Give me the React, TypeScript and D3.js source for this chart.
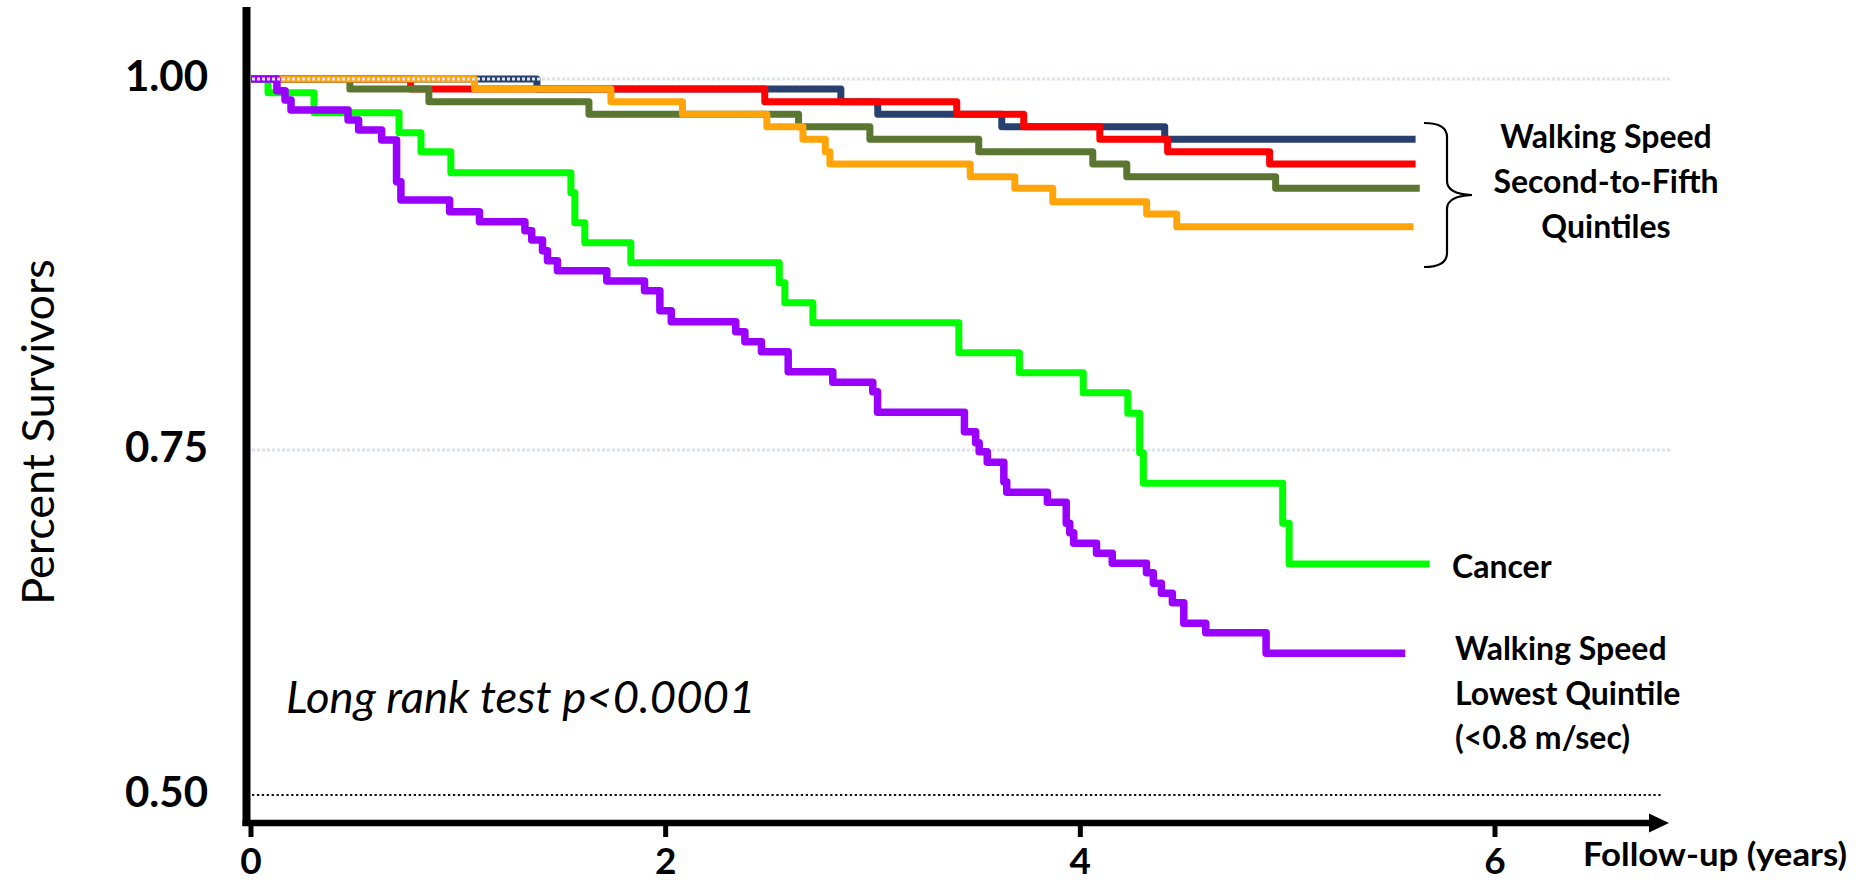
import React from 'react';
import * as d3 from 'd3';

const WIDTH = 1862;
const HEIGHT = 882;

// Kaplan–Meier survival steps. Each value holds from its time (years) until the next time.
const fifthTimes = [0, 1.379, 2.845, 3.023, 3.621, 4.407];
const fifthValues = [1.0, 0.9933, 0.9847, 0.9762, 0.9679, 0.9594];
const fifthEnd = 5.617;

const fourthTimes = [0, 0.77, 2.478, 3.404, 3.727, 4.094, 4.421, 4.913];
const fourthValues = [1.0, 0.9933, 0.9847, 0.9762, 0.9679, 0.9594, 0.951, 0.9427];
const fourthEnd = 5.617;

const thirdTimes = [0, 0.477, 0.858, 1.63, 2.641, 2.985, 3.51, 4.06, 4.224, 4.942];
const thirdValues = [1.0, 0.9933, 0.9847, 0.9762, 0.9679, 0.9594, 0.951, 0.9427, 0.9342, 0.9263];
const thirdEnd = 5.637;

const secondTimes = [0, 1.078, 1.736, 2.081, 2.488, 2.662, 2.77, 2.792, 3.469, 3.684, 3.867, 4.32, 4.465];
const secondValues = [1.0, 0.9933, 0.9847, 0.9762, 0.9679, 0.9594, 0.951, 0.9427, 0.9342, 0.9263, 0.9173, 0.909, 0.9005];
const secondEnd = 5.607;

const cancerTimes = [0, 0.082, 0.304, 0.714, 0.82, 0.964, 1.543, 1.562, 1.61, 1.832, 2.548, 2.575, 2.71, 3.414, 3.706, 4.014, 4.229, 4.286, 4.304, 4.976, 5.007];
const cancerValues = [1.0, 0.9908, 0.9773, 0.9638, 0.951, 0.9369, 0.9234, 0.9032, 0.8897, 0.8762, 0.8627, 0.8493, 0.8358, 0.8156, 0.8021, 0.7886, 0.7747, 0.748, 0.7259, 0.6969, 0.6674];
const cancerEnd = 5.685;

const lowestTimes = [0, 0.125, 0.164, 0.193, 0.468, 0.519, 0.63, 0.702, 0.723, 0.958, 1.102, 1.321, 1.354, 1.406, 1.43, 1.478, 1.716, 1.898, 1.972, 2.027, 2.338, 2.382, 2.462, 2.591, 2.806, 2.999, 3.022, 3.441, 3.495, 3.512, 3.551, 3.631, 3.645, 3.841, 3.932, 3.949, 3.968, 4.078, 4.154, 4.319, 4.352, 4.391, 4.444, 4.499, 4.605, 4.896];
const lowestValues = [1.0, 0.9921, 0.9858, 0.9791, 0.9724, 0.9656, 0.9589, 0.9308, 0.9185, 0.9106, 0.9038, 0.8978, 0.8915, 0.8843, 0.8776, 0.8708, 0.8639, 0.8573, 0.8439, 0.8365, 0.8297, 0.823, 0.8162, 0.8028, 0.7956, 0.7893, 0.7754, 0.7623, 0.7549, 0.7488, 0.7411, 0.727, 0.7193, 0.7121, 0.6969, 0.6901, 0.6824, 0.6751, 0.6679, 0.6611, 0.6534, 0.6462, 0.6393, 0.6244, 0.6176, 0.6027];
const lowestEnd = 5.567;

const xTicks = [0, 2, 4, 6];
const yTicks = [0.5, 0.75, 1.0];
const yTickLabels = ['0.50', '0.75', '1.00'];

const quintileLabel = ['Walking Speed', 'Second-to-Fifth', 'Quintiles'];
const lowestLabel = ['Walking Speed', 'Lowest Quintile', '(<0.8 m/sec)'];

const FONT = 'Lato, Carlito, "Liberation Sans", sans-serif';

const x = d3.scaleLinear().domain([0, 6]).range([251, 1495]);
// the printed axis spaces its upper and lower halves slightly differently
const y = d3.scaleLinear().domain([0.5, 0.75, 1.0]).range([795, 450, 79]);

const stepLine = d3
  .line<[number, number]>()
  .x((d) => x(d[0]))
  .y((d) => y(d[1]))
  .curve(d3.curveStepAfter);

function stepPoints(times: number[], values: number[], end: number): [number, number][] {
  const pts = times.map((t, i) => [t, values[i]] as [number, number]);
  pts.push([end, values[values.length - 1]]);
  return pts;
}

// drawn bottom to top
const series = [
  { key: 'fifth', times: fifthTimes, values: fifthValues, end: fifthEnd, color: '#27406f', width: 7 },
  { key: 'fourth', times: fourthTimes, values: fourthValues, end: fourthEnd, color: '#ff0000', width: 7 },
  { key: 'third', times: thirdTimes, values: thirdValues, end: thirdEnd, color: '#5a7631', width: 7 },
  { key: 'second', times: secondTimes, values: secondValues, end: secondEnd, color: '#ffa50a', width: 7 },
  { key: 'cancer', times: cancerTimes, values: cancerValues, end: cancerEnd, color: '#00ff00', width: 7 },
  { key: 'lowest', times: lowestTimes, values: lowestValues, end: lowestEnd, color: '#9900ff', width: 7.5 },
];

export default function App() {
  const axisX = 246.5;
  const axisY = 823;
  const gridEnd = 1672;
  return (
    <svg
      width={WIDTH}
      height={HEIGHT}
      viewBox={`0 0 ${WIDTH} ${HEIGHT}`}
      style={{ position: 'absolute', left: 0, top: 0, background: '#fff' }}
      fontFamily={FONT}
    >
      <defs>
        <filter id="tickShadow" x="-50%" y="-100%" width="200%" height="300%">
          <feDropShadow dx="-2" dy="3" stdDeviation="2" floodColor="#000" floodOpacity="0.35" />
        </filter>
      </defs>
      <rect width={WIDTH} height={HEIGHT} fill="#fff" />

      {/* middle reference line sits under the curves */}
      <line x1={x(0) + 1} x2={gridEnd} y1={y(0.75)} y2={y(0.75)} stroke="#dde2ee" strokeWidth={3} strokeDasharray="3 2" />

      {/* survival curves */}
      {series.map((s) => (
        <path
          key={s.key}
          d={stepLine(stepPoints(s.times, s.values, s.end)) || ''}
          fill="none"
          stroke={s.color}
          strokeWidth={s.width}
          strokeLinejoin="round"
          strokeLinecap="butt"
        />
      ))}

      {/* top reference line is drawn over the curves; dotted baseline at 0.50 */}
      <line x1={x(0) + 1} x2={gridEnd} y1={y(1)} y2={y(1)} stroke="#dde2ee" strokeWidth={3} strokeDasharray="3 2" />
      <line x1={x(0) + 1} x2={1661} y1={y(0.5)} y2={y(0.5)} stroke="#111" strokeWidth={2} strokeDasharray="2.3 2.6" />

      {/* y axis */}
      <line x1={axisX} x2={axisX} y1={7} y2={axisY + 3} stroke="#000" strokeWidth={8} />
      {yTicks.map((v, i) => (
        <g key={v}>
          <line x1={232} x2={axisX} y1={y(v)} y2={y(v)} stroke="#000" strokeWidth={6} filter="url(#tickShadow)" />
          <text x={208} y={y(v) + 12} textAnchor="end" fontSize={42} fontWeight={700} fill="#000">
            {yTickLabels[i]}
          </text>
        </g>
      ))}
      <text transform={`translate(54, 432) rotate(-90)`} textAnchor="middle" fontSize={45} fill="#000">
        Percent Survivors
      </text>

      {/* x axis with arrow */}
      <line x1={axisX - 4} x2={1652} y1={axisY} y2={axisY} stroke="#000" strokeWidth={6.5} />
      <path d={`M1649,${axisY - 9.5} L1669,${axisY} L1649,${axisY + 9.5} Z`} fill="#000" />
      {xTicks.map((t) => (
        <g key={t}>
          <line x1={x(t)} x2={x(t)} y1={axisY} y2={837} stroke="#000" strokeWidth={5} />
          <text x={x(t)} y={873.5} textAnchor="middle" fontSize={37} fontWeight={700} fill="#000">
            {t}
          </text>
        </g>
      ))}
      <text x={1583} y={866} fontSize={33} fontWeight={700} fill="#000" textLength={264} lengthAdjust="spacingAndGlyphs">
        Follow-up (years)
      </text>

      {/* annotations */}
      <text x={286} y={713} fontSize={45.5} fontStyle="italic" fill="#000">
        Long rank test p&lt;0.0001
      </text>

      <path
        d="M1424,123 Q1447,123 1447,137 L1447,181 Q1447,194 1472,195 Q1447,196 1447,209 L1447,253 Q1447,267 1424,267"
        fill="none"
        stroke="#000"
        strokeWidth={2.2}
      />
      {quintileLabel.map((line, i) => (
        <text key={line} x={1606} y={148 + i * 45} textAnchor="middle" fontSize={32} fontWeight={700} fill="#000">
          {line}
        </text>
      ))}

      <text x={1452} y={578} fontSize={32} fontWeight={700} fill="#000">
        Cancer
      </text>

      {lowestLabel.map((line, i) => (
        <text key={line} x={1455} y={660 + i * 44.5} fontSize={32} fontWeight={700} fill="#000">
          {line}
        </text>
      ))}
    </svg>
  );
}
